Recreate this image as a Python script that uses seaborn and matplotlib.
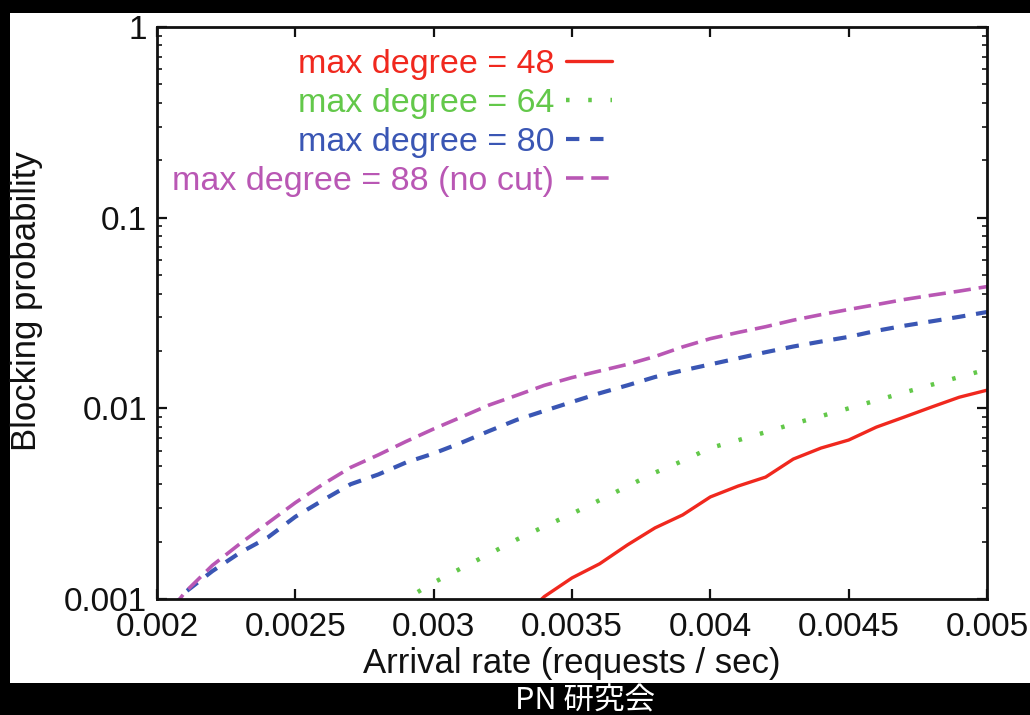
import matplotlib
matplotlib.use("Agg")
import matplotlib.pyplot as plt
import numpy as np
import pandas as pd
import seaborn as sns
from matplotlib.patches import Rectangle
from matplotlib.ticker import FixedLocator, LogLocator, NullFormatter

# Arrival rate (requests / sec), sampled every 0.0001
rate_all = [0.0020, 0.0021, 0.0022, 0.0023, 0.0024, 0.0025, 0.0026, 0.0027,
            0.0028, 0.0029, 0.0030, 0.0031, 0.0032, 0.0033, 0.0034, 0.0035,
            0.0036, 0.0037, 0.0038, 0.0039, 0.0040, 0.0041, 0.0042, 0.0043,
            0.0044, 0.0045, 0.0046, 0.0047, 0.0048, 0.0049, 0.0050]

# Blocking probability per degree cut-off
block_deg88 = [0.0007, 0.00108, 0.00150, 0.00195, 0.0025, 0.0032, 0.0040, 0.0049,
               0.0057, 0.0067, 0.0078, 0.0090, 0.0104, 0.0117, 0.0132, 0.0145,
               0.0157, 0.0170, 0.0187, 0.0210, 0.0232, 0.0250, 0.0268, 0.0290,
               0.0310, 0.0330, 0.0350, 0.0372, 0.0392, 0.0412, 0.0435]
block_deg80 = [0.0007, 0.00108, 0.00140, 0.00175, 0.0021, 0.0027, 0.0033, 0.0040,
               0.0045, 0.0052, 0.0058, 0.0066, 0.0076, 0.0087, 0.0097, 0.0108,
               0.0120, 0.0132, 0.0146, 0.0158, 0.0170, 0.0183, 0.0197, 0.0211,
               0.0224, 0.0237, 0.0255, 0.0271, 0.0286, 0.0302, 0.0320]

rate_deg64 = rate_all[8:]
block_deg64 = [0.00085, 0.00100, 0.00122, 0.00145, 0.00172, 0.00205, 0.0024, 0.0028,
               0.0033, 0.0039, 0.0046, 0.0053, 0.0062, 0.0068, 0.0075, 0.0083,
               0.0091, 0.0100, 0.0110, 0.0121, 0.0133, 0.0146, 0.0160]

rate_deg48 = rate_all[13:]
block_deg48 = [0.00075, 0.00103, 0.00129, 0.00153, 0.00192, 0.00236, 0.00276, 0.00343,
               0.00391, 0.00436, 0.00542, 0.00619, 0.00682, 0.00797, 0.00899, 0.01016,
               0.01144, 0.01245]

series_labels = ["max degree = 48", "max degree = 64", "max degree = 80",
                 "max degree = 88 (no cut)"]
series_colors = ["#f0281e", "#63c84a", "#3a56b4", "#b957b4"]

x_ticks = [0.002, 0.0025, 0.003, 0.0035, 0.004, 0.0045, 0.005]
x_tick_labels = ["0.002", "0.0025", "0.003", "0.0035", "0.004", "0.0045", "0.005"]
y_ticks = [0.001, 0.01, 0.1, 1]
y_tick_labels = ["0.001", "0.01", "0.1", "1"]

sns.set_style("ticks")
plt.rcParams["font.family"] = ["Liberation Sans", "DejaVu Sans"]

W, H = 1030, 715
fig = plt.figure(figsize=(W / 100, H / 100), dpi=100, facecolor="black")
# white page area behind the plot
fig.patches.append(Rectangle((10 / W, 1 - 683 / H), 1 - 10 / W, (683 - 13) / H,
                             transform=fig.transFigure, facecolor="white",
                             edgecolor="none", zorder=-10))

ax = fig.add_axes([157 / W, 1 - 599 / H, (987 - 157) / W, (599 - 27) / H])
ax.set_facecolor("white")
ax.set_zorder(5)

frames = [
    (rate_deg48, block_deg48, series_labels[0], series_colors[0], "-", 2.4),
    (rate_deg64, block_deg64, series_labels[1], series_colors[1], (0, (0.8, 4.2)), 3.2),
    (rate_all, block_deg80, series_labels[2], series_colors[2], (0, (3.2, 2.6)), 3.0),
    (rate_all, block_deg88, series_labels[3], series_colors[3], (0, (4.8, 2.2)), 2.6),
]
for xs, ys, lab, col, ls, lw in frames:
    df = pd.DataFrame({"rate": xs, "block": ys})
    sns.lineplot(data=df, x="rate", y="block", ax=ax, color=col, linestyle=ls,
                 linewidth=lw, label=lab, estimator=None, sort=False)

ax.set_yscale("log")
ax.set_xlim(0.002, 0.005)
ax.set_ylim(0.001, 1)

ax.xaxis.set_major_locator(FixedLocator(x_ticks))
ax.set_xticklabels(x_tick_labels)
ax.yaxis.set_major_locator(FixedLocator(y_ticks))
ax.set_yticklabels(y_tick_labels)
ax.yaxis.set_minor_locator(LogLocator(base=10, subs=np.arange(2, 10)))
ax.yaxis.set_minor_formatter(NullFormatter())

ax.tick_params(axis="both", which="major", direction="in", length=7, width=1.6,
               top=True, right=True, labelsize=24, colors="#111111", pad=7)
ax.tick_params(axis="x", which="major", pad=9)
ax.tick_params(axis="y", which="minor", direction="in", length=3.5, width=1.3,
               left=True, right=True)
for s in ax.spines.values():
    s.set_linewidth(2.0)
    s.set_color("#111111")

ax.set_xlabel("Arrival rate (requests / sec)", fontsize=25, color="#111111")
ax.set_ylabel("Blocking probability", fontsize=25, color="#111111")
ax.xaxis.set_label_coords(0.5, -0.084)
ax.yaxis.set_label_coords(-0.137, 0.52)

leg = ax.legend(loc="upper right", bbox_to_anchor=(0.548, 0.962), frameon=False,
                markerfirst=False, fontsize=24.5, handlelength=1.35,
                handletextpad=0.34, labelspacing=0.24, borderpad=0, borderaxespad=0)
for txt, col in zip(leg.get_texts(), series_colors):
    txt.set_color(col)

fig.text(515 / W, 1 - 710 / H, "PN 研究会", color="white", fontsize=22,
         ha="left", va="baseline", family=["Noto Sans CJK JP", "DejaVu Sans"])

fig.savefig("out.png", dpi=100, facecolor="black")
